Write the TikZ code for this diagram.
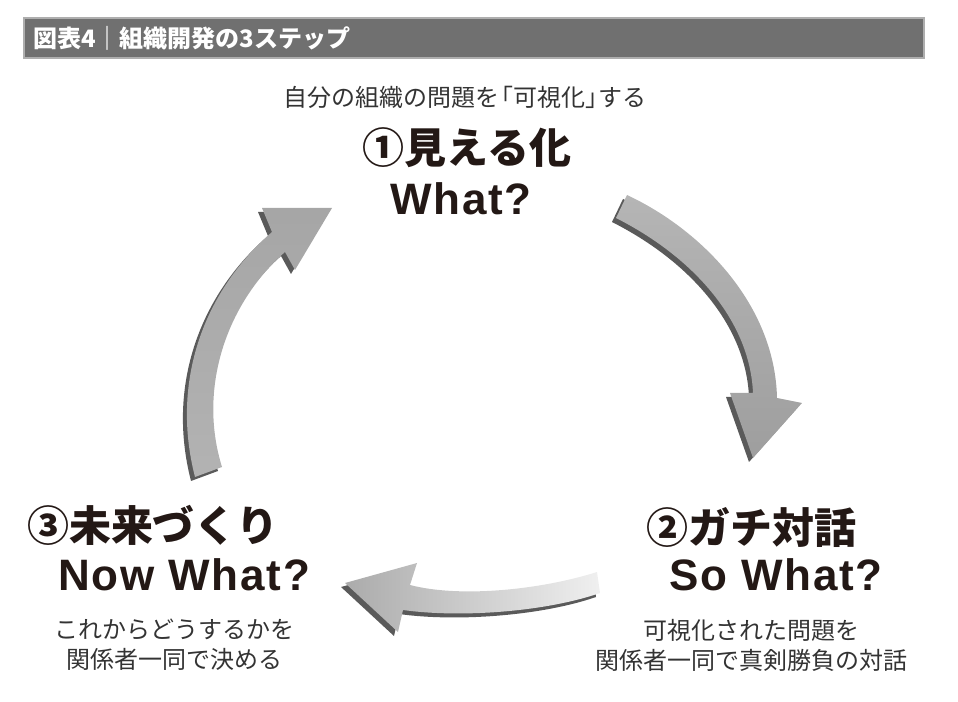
\documentclass[tikz,border=0pt]{standalone}
\usepackage{fontspec}
\newfontfamily\jpfont{Noto Sans CJK JP}
\newfontfamily\enfont[LetterSpace=4]{Liberation Sans}
\usepackage{xcolor}
\usepackage{tikz}
\usetikzlibrary{positioning}

\definecolor{inkblack}{HTML}{231815}
\definecolor{notegray}{HTML}{333333}
\definecolor{bandgray}{HTML}{707070}
\definecolor{bandedge}{HTML}{AEAEAE}
\definecolor{shadowgray}{HTML}{5A5A5A}

\tikzset{
  steptitle/.style={text=inkblack, inner sep=0pt, font=\jpfont\bfseries\fontsize{31.5}{36}\selectfont},
  stepquestion/.style={text=inkblack, inner sep=0pt, font=\enfont\bfseries\fontsize{33}{38}\selectfont},
  stepnote/.style={text=notegray, inner sep=0pt, align=center, font=\jpfont\fontsize{18}{22.5}\selectfont},
  arrowshadow/.style={fill=shadowgray, shift={(-4,4)}},
}

% curved arrow outlines (pixel grid, y downwards)
\newcommand\arrowseetalk{(627,195) .. controls (702,230) and (775,305) .. (777,398) -- (802,403) -- (753,458) -- (730,393) -- (753,393) .. controls (750,322) and (695,258) .. (616,218) -- cycle}
\newcommand\arrowtalkfuture{(597,572) .. controls (540,590) and (460,598) .. (410,585) -- (417,563) -- (345,583) -- (398,632) -- (403,610) .. controls (460,618) and (545,612) .. (600,593) -- cycle}
\newcommand\arrowfuturesee{(195,477) .. controls (170,380) and (205,290) .. (272,232) -- (262,208) -- (332,208) -- (295,270) -- (285,252) .. controls (225,305) and (198,390) .. (222,467) -- cycle}

\begin{document}
\begin{tikzpicture}[x=0.75pt, y=-0.75pt, node distance=0pt]
\useasboundingbox (0,0) rectangle (958,702);

% Header
\draw[fill=bandgray, draw=bandedge, line width=0.8pt] (24,18) rectangle (924,58);
\node[anchor=west, text=white, inner sep=0pt, font=\jpfont\bfseries\fontsize{18}{20}\selectfont] (header) at (33,38) {図表4｜組織開発の3ステップ};

% Arrows
\fill[arrowshadow] \arrowseetalk;
\shade[top color=black!29, bottom color=black!38] \arrowseetalk;
\fill[arrowshadow] \arrowtalkfuture;
\shade[left color=black!33, right color=black!6] \arrowtalkfuture;
\fill[arrowshadow] \arrowfuturesee;
\shade[top color=black!35, bottom color=black!30] \arrowfuturesee;

% Step 1
\node[stepnote] (see_note) at (465,97) {自分の組織の問題を\kern-0.45em「可視化」\kern-0.45emする};
\node[steptitle] (see) at (467,148) {①見える化};
\node[stepquestion] (see_q) at (461,199) {What?};

% Step 2
\node[steptitle] (talk) at (751,527) {②ガチ対話};
\node[stepquestion] (talk_q) at (776,575) {So What?};
\node[stepnote] (talk_note) at (751,645) {可視化された問題を\\関係者一同で真剣勝負の対話};

% Step 3
\node[steptitle] (future) at (153,525) {③未来づくり};
\node[stepquestion] (future_q) at (184,575) {Now What?};
\node[stepnote] (future_note) at (175,645) {これからどうするかを\\関係者一同で決める};

\end{tikzpicture}
\end{document}
